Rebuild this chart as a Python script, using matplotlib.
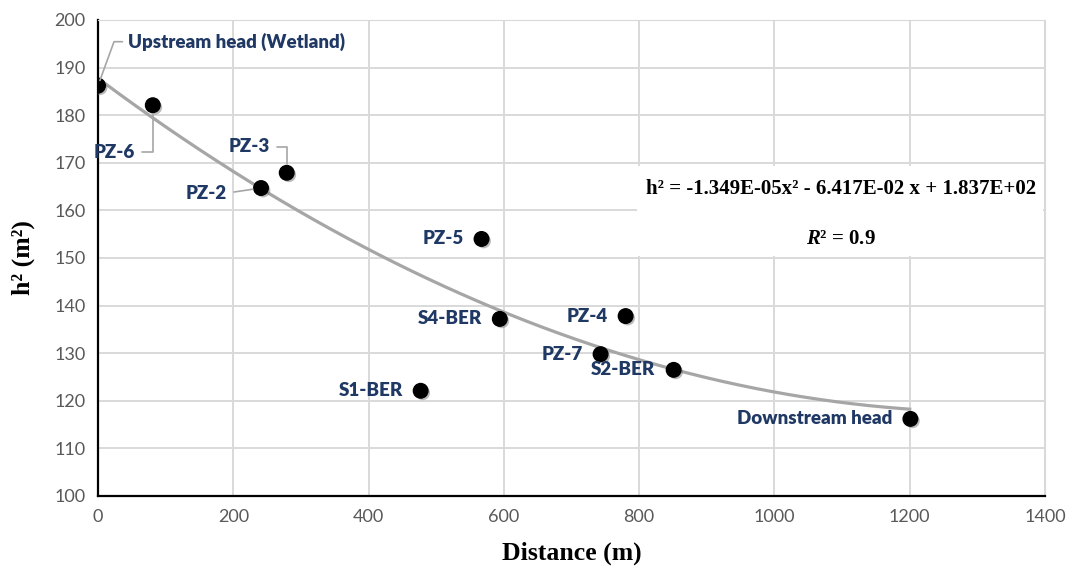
import numpy as np
import matplotlib
matplotlib.use("Agg")
from matplotlib import pyplot as plt
from matplotlib import patheffects as pe
from matplotlib.patches import Rectangle

plt.rcParams['mathtext.fontset'] = 'custom'
plt.rcParams['mathtext.it'] = 'Liberation Serif:italic:bold'
plt.rcParams['mathtext.rm'] = 'Liberation Serif:bold'

# data
names = ['Upstream head (Wetland)', 'PZ-6', 'PZ-2', 'PZ-3', 'PZ-5', 'S4-BER',
         'PZ-4', 'PZ-7', 'S2-BER', 'S1-BER', 'Downstream head']
distance = [0, 81, 241, 279, 567, 594, 780, 743, 851, 477, 1201]
h2 = [186.2, 182.1, 164.7, 167.9, 154.0, 137.2, 137.8, 129.8, 126.5, 122.1, 116.2]

x_ticks = [0, 200, 400, 600, 800, 1000, 1200, 1400]
y_ticks = [100, 110, 120, 130, 140, 150, 160, 170, 180, 190, 200]

equation = 'h² = -1.349E-05x² - 6.417E-02 x + 1.837E+02'
r2_text = '$\\mathit{R}$² = 0.9'

# label placement: (dx, dy) in pixels, horizontal alignment, leader style
label_pos = {
    'Upstream head (Wetland)': ((30, 44), 'left', 'up'),
    'PZ-6': ((-18, -47), 'right', 'elbow'),
    'PZ-2': ((-34, -5), 'right', 'straight'),
    'PZ-3': ((-17, 26), 'right', 'elbow'),
}

navy = '#1f3864'
grid_c = '#d9d9d9'

fig = plt.figure(figsize=(10.7, 5.74), dpi=100)
ax = fig.add_axes([98 / 1070, 1 - 496 / 574, (1045 - 98) / 1070, (496 - 20) / 574])

ax.set_xlim(0, 1400)
ax.set_ylim(100, 200)
ax.set_xticks(x_ticks)
ax.set_yticks(y_ticks)
ax.set_axisbelow(True)
ax.grid(True, color=grid_c, lw=1.4)
ax.tick_params(length=0, labelsize=13, labelcolor='#595959', pad=9)
for lbl in ax.get_xticklabels() + ax.get_yticklabels():
    lbl.set_fontfamily('Lato')
for s in ['top', 'right']:
    ax.spines[s].set_color(grid_c)
for s in ['left', 'bottom']:
    ax.spines[s].set_linewidth(1.6)
    ax.spines[s].set_color('black')

# white box behind the equation
ax.add_patch(Rectangle((0.569, 0.504), 0.429, 0.19, transform=ax.transAxes,
                       facecolor='white', edgecolor='none', zorder=1))

# polynomial trendline
coef = np.polyfit(distance, h2, 2)
xs = np.linspace(0, 1200, 200)
ax.plot(xs, np.polyval(coef, xs), color='#a6a6a6', lw=2.3, zorder=2)

ax.scatter(distance, h2, s=110, color='black', zorder=4,
           path_effects=[pe.withSimplePatchShadow(offset=(1.5, -1.5), shadow_rgbFace='#777777', alpha=0.5)])

for name, x, y in zip(names, distance, h2):
    off, ha, style = label_pos.get(name, ((-18, 0), 'right', None))
    arrow = None
    if style == 'up':
        arrow = dict(arrowstyle='-', color='#a6a6a6', lw=1.2, shrinkA=2, shrinkB=4,
                     connectionstyle='angle,angleA=180,angleB=70,rad=0', relpos=(0, 0.5))
    elif style == 'elbow':
        arrow = dict(arrowstyle='-', color='#a6a6a6', lw=1.2, shrinkA=3, shrinkB=6,
                     connectionstyle='angle,angleA=0,angleB=90,rad=0', relpos=(1, 0.5))
    elif style == 'straight':
        arrow = dict(arrowstyle='-', color='#a6a6a6', lw=1.2, shrinkA=3, shrinkB=6, relpos=(1, 0.5))
    ax.annotate(name, (x, y), xytext=off, textcoords='offset pixels', ha=ha, va='center',
                fontsize=13.5, fontweight='heavy', color=navy, family='Lato',
                arrowprops=arrow, zorder=5)

ax.text(0.785, 0.645, equation, transform=ax.transAxes, ha='center', va='center',
        fontsize=15, fontweight='bold', family='Liberation Serif', zorder=3)
ax.text(0.785, 0.54, r2_text, transform=ax.transAxes, ha='center', va='center',
        fontsize=15, fontweight='bold', family='Liberation Serif', zorder=3)

ax.set_xlabel('Distance (m)', fontsize=18.5, fontweight='bold', family='Liberation Serif', labelpad=12)
ax.set_ylabel('h² (m²)', fontsize=18.5, fontweight='bold', family='Liberation Serif', labelpad=14)

fig.savefig('out.png', dpi=100)
